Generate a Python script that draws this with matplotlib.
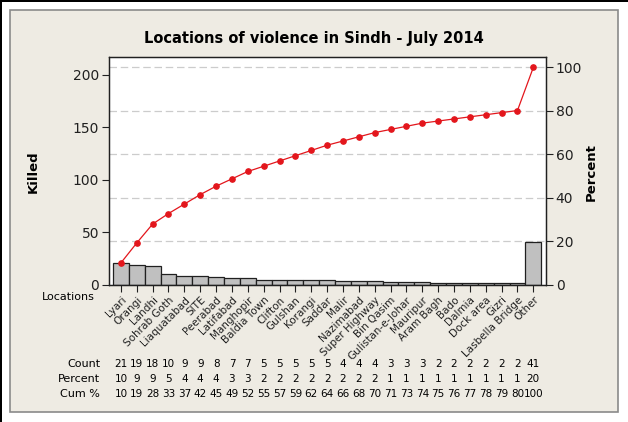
import numpy as np
import matplotlib
matplotlib.use("Agg")
import matplotlib.pyplot as plt
from matplotlib.patches import Rectangle

# data
locations = ['Lyari', 'Orangi', 'Landhi', 'Sohrab Goth', 'Liaquatabad', 'SITE',
             'Peerabad', 'Latifabad', 'Manghopir', 'Baldia Town', 'Clifton',
             'Gulshan', 'Korangi', 'Saddar', 'Malir', 'Nazimabad', 'Super Highway',
             'Bin Qasim', 'Gulistan-e-Johar', 'Mauripur', 'Aram Bagh', 'Bado',
             'Dalmia', 'Dock area', 'Gizri', 'Lasbella Bridge', 'Other']
killed = [21, 19, 18, 10, 9, 9, 8, 7, 7, 5, 5, 5, 5, 5, 4, 4, 4, 3, 3, 3,
          2, 2, 2, 2, 2, 2, 41]
left_ticks = [0, 50, 100, 150, 200]
right_ticks = [0, 20, 40, 60, 80, 100]

W, H = 628, 422
plt.rcParams['font.family'] = 'DejaVu Sans'

total = sum(killed)
percent = [100.0 * k / total for k in killed]
cum_pct = np.cumsum(percent)
x = np.arange(len(killed))

fig = plt.figure(figsize=(W / 100, H / 100), dpi=100)
fig.patch.set_facecolor('white')

# beige panel behind the chart
fig.patches.append(Rectangle((10 / W, 1 - 412 / H), 608 / W, 402 / H,
                             transform=fig.transFigure, facecolor='#EEEBE3',
                             edgecolor='#8A8A8A', linewidth=1.2, zorder=-2))
# dark edge on left/top of the screenshot
fig.patches.append(Rectangle((0, 0), 2 / W, 1, transform=fig.transFigure,
                             facecolor='black', edgecolor='none', zorder=-1))
fig.patches.append(Rectangle((0, 1 - 2 / H), 1, 2 / H, transform=fig.transFigure,
                             facecolor='black', edgecolor='none', zorder=-1))

ax_l, ax_r, ax_t, ax_b = 109, 546, 57, 285
ax = fig.add_axes([ax_l / W, 1 - ax_b / H, (ax_r - ax_l) / W, (ax_b - ax_t) / H])

ymax_pct = 104.8
ax.set_ylim(0, ymax_pct * total / 100)
ax.set_xlim(-0.75, len(killed) - 0.2)

# dashed reference lines at the percent levels, behind the bars
for g in right_ticks[1:]:
    ax.axhline(g * total / 100, color='#CCCCCC', linestyle=(0, (6, 3)),
               linewidth=0.9, zorder=1)
ax.bar(x, killed, width=1.0, color='#C0C0C0', edgecolor='#202020', linewidth=0.9, zorder=2)

ax2 = ax.twinx()
ax2.set_ylim(0, ymax_pct)
ax2.plot(x, cum_pct, color='#E3161C', linewidth=0.9, marker='o', markersize=3.8,
         markerfacecolor='#E3161C', markeredgecolor='#E3161C', zorder=3)

ax.set_facecolor('white')
ax2.patch.set_visible(False)

ax.set_yticks(left_ticks)
ax.set_yticklabels([str(t) for t in left_ticks], fontsize=10)
ax2.set_yticks(right_ticks)
ax2.set_yticklabels([str(t) for t in right_ticks], fontsize=10)
ax.set_xticks(x)
ax.set_xticklabels(locations, rotation=45, ha='right', rotation_mode='anchor',
                   fontsize=7.5, color='#202020')
for a in (ax, ax2):
    a.tick_params(direction='out', length=5, width=0.8, colors='#202020', pad=2)
    for s in a.spines.values():
        s.set_color('#202020')
        s.set_linewidth(0.9)

fig.text(314 / W, 1 - 38 / H, 'Locations of violence in Sindh - July 2014',
         ha='center', va='center', fontsize=10.5, fontweight='bold')
fig.text(33 / W, 1 - 172 / H, 'Killed', rotation=90, ha='center', va='center',
         fontsize=9.5, fontweight='bold')
fig.text(591 / W, 1 - 172 / H, 'Percent', rotation=90, ha='center', va='center',
         fontsize=9.5, fontweight='bold')
fig.text(95 / W, 1 - 297 / H, 'Locations', ha='right', va='center', fontsize=8)

# summary table below the chart
rows = [('Count', [str(k) for k in killed], 364),
        ('Percent', [str(int(round(p))) for p in percent], 379),
        ('Cum %', [str(int(round(c))) for c in cum_pct], 394)]
for name, vals, ypix in rows:
    yf = 1 - ypix / H
    fig.text(100 / W, yf, name, ha='right', va='center', fontsize=8)
    for xi, v in zip(x, vals):
        xf = fig.transFigure.inverted().transform(ax.transData.transform((xi, 0)))[0]
        fig.text(xf, yf, v, ha='center', va='center', fontsize=7.5)

fig.savefig('out.png', dpi=100)
